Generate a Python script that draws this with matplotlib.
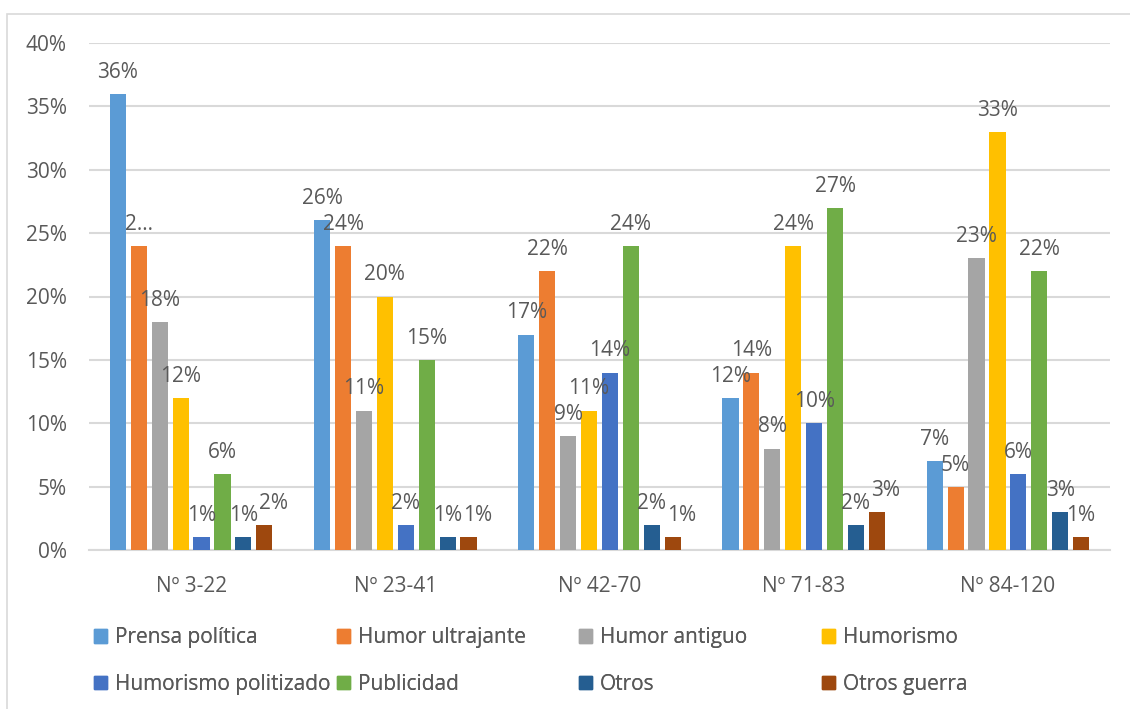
import numpy as np
import matplotlib
matplotlib.use("Agg")
import matplotlib.pyplot as plt
from matplotlib.patches import Rectangle, Patch

# data (percent)
groups = ["Nº 3-22", "Nº 23-41", "Nº 42-70", "Nº 71-83", "Nº 84-120"]
series = ["Prensa política", "Humor ultrajante", "Humor antiguo", "Humorismo",
          "Humorismo politizado", "Publicidad", "Otros", "Otros guerra"]
prensa_politica = [36, 26, 17, 12, 7]
humor_ultrajante = [24, 24, 22, 14, 5]
humor_antiguo = [18, 11, 9, 8, 23]
humorismo = [12, 20, 11, 24, 33]
humorismo_politizado = [1, 2, 14, 10, 6]
publicidad = [6, 15, 24, 27, 22]
otros = [1, 1, 2, 2, 3]
otros_guerra = [2, 1, 1, 3, 1]
values = [prensa_politica, humor_ultrajante, humor_antiguo, humorismo,
          humorismo_politizado, publicidad, otros, otros_guerra]
colors = ["#5B9BD5", "#ED7D31", "#A5A5A5", "#FFC000",
          "#4472C4", "#70AD47", "#255E91", "#9E480E"]

plt.rcParams['font.family'] = ['Open Sans', 'DejaVu Sans']
txt = "#595959"
fs = 15

fig = plt.figure(figsize=(11.3, 7.09), dpi=100)
ax = fig.add_axes([89 / 1130, 1 - 550 / 709, 1021 / 1130, 507 / 709])

x = np.arange(len(groups))
slot = 0.1024
all_labels = []
for i, (name, vals, c) in enumerate(zip(series, values, colors)):
    bars = ax.bar(x + (i - 3.5) * slot, vals, width=0.079, color=c, label=name, zorder=3)
    labels = [f"{v}%" for v in vals]
    if i == 1:
        labels[0] = "2…"  # truncated in the original
    anns = ax.bar_label(bars, labels=labels, padding=8, fontsize=fs, color=txt, zorder=4)
    all_labels.append(anns)

ax.set_xlim(-0.5, 4.5)
ax.set_ylim(0, 40)
ax.set_yticks(range(0, 41, 5))
ax.set_yticklabels([f"{t}%" for t in range(0, 41, 5)])
ax.set_xticks(x)
ax.set_xticklabels(groups)
ax.tick_params(length=0, labelsize=fs, colors=txt)
ax.tick_params(axis='y', pad=16)
ax.tick_params(axis='x', pad=19)
ax.yaxis.grid(True, color="#D9D9D9", linewidth=1.5, zorder=0)
for s in ["top", "right", "left"]:
    ax.spines[s].set_visible(False)
ax.spines["bottom"].set_color("#D9D9D9")
ax.spines["bottom"].set_linewidth(1.5)

# nudge labels right when they collide with the previous one (like Excel does)
fig.canvas.draw()
r = fig.canvas.get_renderer()
for g in range(len(groups)):
    prev = None
    for i in range(len(series)):
        a = all_labels[i][g]
        bb = a.get_window_extent(r)
        if prev is not None and bb.x0 < prev.x1 and bb.y0 < prev.y1 and bb.y1 > prev.y0:
            shift = (prev.x1 - bb.x0 + 1) * 72 / fig.dpi
            ox, oy = a.xyann
            a.xyann = (ox + shift, oy)
            bb = a.get_window_extent(r)
        prev = bb

# legend: one small legend per column so columns sit at Excel's fixed spots
col_x = [97, 340, 582, 825]
for j in range(4):
    hs = [Patch(color=colors[j]), Patch(color=colors[j + 4])]
    lg = fig.legend(hs, [series[j], series[j + 4]], loc="upper left",
                    bbox_to_anchor=((col_x[j] - 11) / 1130, 1 - 619 / 709),
                    frameon=False, fontsize=fs, labelcolor=txt,
                    handlelength=0.6, handleheight=0.6, handletextpad=0.4,
                    labelspacing=1.22, borderaxespad=0)
    fig.add_artist(lg)

# light chart border
fig.patches.append(Rectangle((7 / 1130, -0.1), 1.2, 1 - 14 / 709 + 0.1,
                             transform=fig.transFigure, fill=False,
                             edgecolor="#D9D9D9", linewidth=1.2))

fig.savefig("out.png", dpi=100)
